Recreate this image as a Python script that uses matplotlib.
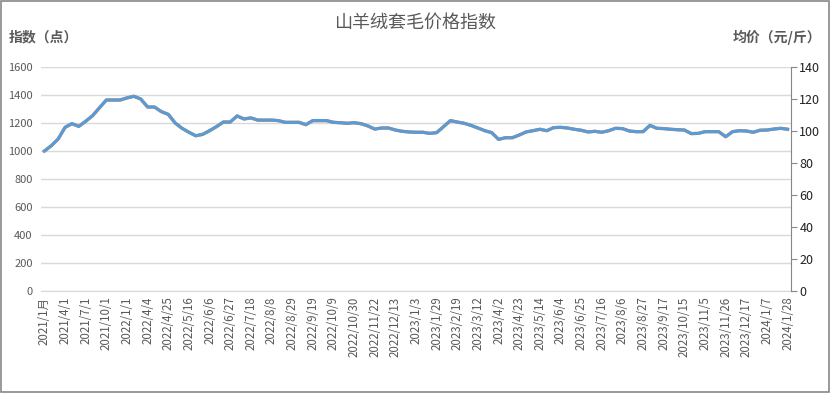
import matplotlib
matplotlib.use("Agg")
import matplotlib.pyplot as plt
from matplotlib.patches import Rectangle
import numpy as np

plt.rcParams['font.family'] = ['Noto Sans CJK SC', 'DejaVu Sans']

# 指数（点）, weekly series
index_vals = [1000, 1038, 1086, 1169, 1195, 1176, 1212, 1252, 1309, 1364,
              1364, 1364, 1379, 1391, 1371, 1314, 1314, 1281, 1262, 1200,
              1162, 1134, 1109, 1119, 1145, 1174, 1207, 1207, 1250, 1229,
              1236, 1221, 1221, 1221, 1217, 1205, 1205, 1205, 1188, 1217,
              1217, 1217, 1205, 1202, 1198, 1202, 1195, 1179, 1157, 1164,
              1164, 1150, 1141, 1136, 1134, 1134, 1126, 1131, 1174, 1217,
              1207, 1198, 1183, 1164, 1145, 1131, 1083, 1095, 1095, 1114,
              1136, 1145, 1155, 1145, 1167, 1169, 1164, 1155, 1148, 1136,
              1141, 1134, 1145, 1162, 1160, 1143, 1138, 1138, 1183, 1162,
              1160, 1155, 1152, 1150, 1124, 1126, 1138, 1138, 1138, 1102,
              1138, 1145, 1143, 1134, 1148, 1150, 1157, 1162, 1155]

# 均价（元/斤）
price_vals = [87.5, 90.8, 95.0, 102.3, 104.6, 102.9, 106.1, 109.6, 114.5, 119.4,
              119.4, 119.4, 120.7, 121.7, 120.0, 115.0, 115.0, 112.1, 110.4, 105.0,
              101.7, 99.2, 97.0, 97.9, 100.2, 102.7, 105.6, 105.6, 109.4, 107.5,
              108.2, 106.8, 106.8, 106.8, 106.5, 105.4, 105.4, 105.4, 104.0, 106.5,
              106.5, 106.5, 105.4, 105.2, 104.8, 105.2, 104.6, 103.2, 101.2, 101.9,
              101.9, 100.6, 99.8, 99.4, 99.2, 99.2, 98.5, 99.0, 102.7, 106.5,
              105.6, 104.8, 103.5, 101.9, 100.2, 99.0, 94.8, 95.8, 95.8, 97.5,
              99.4, 100.2, 101.1, 100.2, 102.1, 102.3, 101.9, 101.1, 100.5, 99.4,
              99.8, 99.2, 100.2, 101.7, 101.5, 100.0, 99.6, 99.6, 103.5, 101.7,
              101.5, 101.1, 100.8, 100.6, 98.4, 98.5, 99.6, 99.6, 99.6, 96.4,
              99.6, 100.2, 100.0, 99.2, 100.5, 100.6, 101.2, 101.7, 101.1]

# 每3个数据点一个标签
tick_labels = ['2021/1月', '2021/4/1', '2021/7/1', '2021/10/1', '2022/1/1',
               '2022/4/4', '2022/4/25', '2022/5/16', '2022/6/6', '2022/6/27',
               '2022/7/18', '2022/8/8', '2022/8/29', '2022/9/19', '2022/10/9',
               '2022/10/30', '2022/11/22', '2022/12/13', '2023/1/3', '2023/1/29',
               '2023/2/19', '2023/3/12', '2023/4/2', '2023/4/23', '2023/5/14',
               '2023/6/4', '2023/6/25', '2023/7/16', '2023/8/6', '2023/8/27',
               '2023/9/17', '2023/10/15', '2023/11/5', '2023/11/26', '2023/12/17',
               '2024/1/7', '2024/1/28']

x = np.arange(len(index_vals))
gray = '#595959'

fig = plt.figure(figsize=(8.31, 3.93), dpi=100)
ax = fig.add_axes([0.0493, 0.2595, 0.9026, 0.570])
ax2 = ax.twinx()

ax.plot(x, index_vals, color='#ed7d31', lw=2.3, solid_joinstyle='round')
ax2.plot(x, price_vals, color='#5b9bd5', lw=2.3, solid_joinstyle='round')

ax.set_ylim(0, 1600)
ax.set_yticks(range(0, 1601, 200))
ax2.set_ylim(0, 140)
ax2.set_yticks(range(0, 141, 20))
ax.set_xlim(-0.5, len(x) - 0.5)

ax.set_xticks(x[::3])
ax.set_xticklabels(tick_labels, rotation=90, fontsize=8.3, color=gray)
ax.tick_params(axis='x', length=0, pad=4)
ax.tick_params(axis='y', length=0, labelsize=8, labelcolor=gray, pad=6)
ax2.tick_params(axis='y', length=4, labelsize=9, labelcolor='#222222',
                color='#868686', pad=2)

ax.grid(axis='y', color='#d9d9d9', lw=1)
ax.set_axisbelow(True)
for s in ['top', 'left', 'right']:
    ax.spines[s].set_visible(False)
    ax2.spines[s].set_visible(False)
ax.spines['bottom'].set_color('#d9d9d9')
ax2.spines['bottom'].set_visible(False)
ax2.spines['right'].set_visible(True)
ax2.spines['right'].set_color('#868686')

fig.text(0.5, 0.94, '山羊绒套毛价格指数', ha='center', va='center',
         fontsize=13, fontweight='light', color=gray)
fig.text(0.010, 0.905, '指数（点）', ha='left', va='center',
         fontsize=10, fontweight='bold', color=gray)
fig.text(0.988, 0.905, '均价（元/斤）', ha='right', va='center',
         fontsize=10, fontweight='bold', color=gray)

fig.patches.append(Rectangle((0.001, 0.002), 0.997, 0.996, transform=fig.transFigure,
                             fill=False, edgecolor='#878787', lw=1.2))

fig.savefig('out.png', dpi=100)
